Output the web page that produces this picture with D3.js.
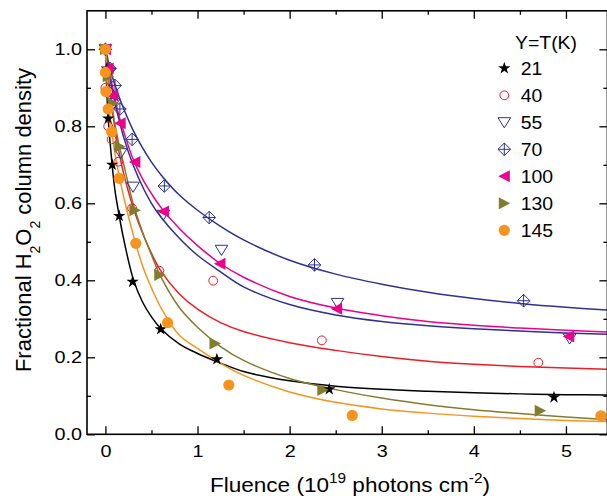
<!DOCTYPE html>
<html><head><meta charset="utf-8">
<script src="https://cdn.jsdelivr.net/npm/d3@7"></script>
<style>body{margin:0;background:#fff}svg{display:block}</style>
</head><body>
<svg id="chart" width="607" height="496"></svg>
<script>
// ---------- data ----------
const seriesNames = ["21","40","55","70","100","130","145"];
const seriesColors = ["#000000","#ee1c25","#2e3192","#2e3192","#ec008c","#827c2e","#f7941d"];
const seriesShapes = ["star","circleOpen","triDownOpen","diamondCross","triLeft","triRight","circleFilled"];

const pts21  = [[0,1.0],[0.015,0.95],[0.03,0.82],[0.074,0.70],[0.15,0.567],[0.295,0.396],[0.60,0.273],[1.21,0.195],[2.43,0.117],[4.87,0.096]];
const pts40  = [[0,1.0],[0,0.90],[0.03,0.80],[0.067,0.766],[0.14,0.708],[0.29,0.587],[0.585,0.425],[1.17,0.399],[2.35,0.244],[4.70,0.186]];
const pts55  = [[0,1.0],[0.04,0.94],[0.09,0.86],[0.165,0.73],[0.30,0.643],[0.628,0.57],[1.26,0.479],[2.52,0.341],[5.04,0.249]];
const pts70  = [[0,1.0],[0.05,0.95],[0.104,0.906],[0.157,0.845],[0.29,0.766],[0.64,0.645],[1.127,0.563],[2.27,0.44],[4.54,0.347]];
const pts100 = [[0,1.0],[0.03,0.95],[0.08,0.88],[0.16,0.808],[0.32,0.707],[0.63,0.579],[1.243,0.443],[2.51,0.326],[5.03,0.254]];
const pts130 = [[0,1.0],[0.03,0.93],[0.085,0.86],[0.157,0.747],[0.32,0.582],[0.59,0.414],[1.19,0.236],[2.36,0.115],[4.72,0.061]];
const pts145 = [[0,1.0],[0,0.94],[0.005,0.89],[0.03,0.845],[0.067,0.786],[0.15,0.665],[0.33,0.496],[0.675,0.29],[1.34,0.128],[2.68,0.049],[5.38,0.048]];

// fitted curves at these fluences
const curveX  = [0,0.025,0.05,0.1,0.15,0.2,0.3,0.4,0.5,0.6,0.8,1.0,1.25,1.5,2.0,2.5,3.0,3.5,4.0,4.5,5.0,5.45];
const fit21  = [1.0,0.84,0.76,0.64,0.567,0.505,0.405,0.345,0.305,0.275,0.235,0.21,0.185,0.163,0.139,0.125,0.117,0.112,0.108,0.105,0.103,0.102];
const fit40  = [1.0,0.94,0.885,0.80,0.73,0.675,0.59,0.525,0.47,0.425,0.365,0.325,0.29,0.267,0.238,0.218,0.202,0.19,0.182,0.176,0.172,0.169];
const fit55  = [1.0,0.96,0.925,0.865,0.815,0.77,0.70,0.645,0.60,0.565,0.51,0.465,0.422,0.383,0.337,0.31,0.293,0.282,0.274,0.268,0.263,0.26];
const fit70  = [1.0,0.975,0.95,0.91,0.875,0.845,0.79,0.745,0.707,0.675,0.622,0.582,0.54,0.505,0.452,0.416,0.39,0.369,0.353,0.34,0.33,0.323];
const fit100 = [1.0,0.965,0.935,0.875,0.825,0.785,0.715,0.665,0.625,0.59,0.535,0.49,0.443,0.408,0.358,0.328,0.308,0.293,0.283,0.276,0.27,0.266];
const fit130 = [1.0,0.94,0.89,0.81,0.75,0.70,0.60,0.527,0.466,0.41,0.33,0.278,0.228,0.192,0.145,0.116,0.094,0.077,0.064,0.054,0.045,0.038];
const fit145 = [1.0,0.89,0.825,0.735,0.67,0.615,0.52,0.44,0.38,0.33,0.258,0.223,0.184,0.153,0.11,0.083,0.066,0.055,0.047,0.041,0.036,0.033];

const xMajorTicks = [0,1,2,3,4,5];
const xMinorTicks = [0.5,1.5,2.5,3.5,4.5];
const yMajorTicks = [0,0.2,0.4,0.6,0.8,1.0];
const yMinorTicks = [0.1,0.3,0.5,0.7,0.9];
const legendTitle = "Y=T(K)";

const allPts = [pts21,pts40,pts55,pts70,pts100,pts130,pts145];
const allFits = [fit21,fit40,fit55,fit70,fit100,fit130,fit145];

// ---------- layout ----------
const L = 87, R = 607.4, T = 10.8, B = 434.3;
const FONT = "'Liberation Sans', Arial, Helvetica, sans-serif";
const svg = d3.select("#chart");
const x = d3.scaleLinear().domain([-0.2, 5.45]).range([L, R]);
const y = d3.scaleLinear().domain([0, 1.1]).range([B, T]);

svg.append("defs").append("clipPath").attr("id","clip")
  .append("rect").attr("x",L).attr("y",T).attr("width",R-L).attr("height",B-T);

// ---------- curves ----------
const line = d3.line().x(d=>x(d[0])).y(d=>y(d[1])).curve(d3.curveCatmullRom.alpha(0.5));
const gCurves = svg.append("g").attr("clip-path","url(#clip)");
allFits.forEach((f,i)=>{
  gCurves.append("path")
    .datum(curveX.map((xv,j)=>[xv,f[j]]))
    .attr("d",line).attr("fill","none")
    .attr("stroke",seriesColors[i]).attr("stroke-width",1.5);
});

// ---------- markers ----------
function marker(sel, shape, color){
  if(shape==="star"){
    sel.append("path").attr("d",d3.symbol(d3.symbolStar,48)()).attr("fill",color);
  } else if(shape==="circleOpen"){
    sel.append("circle").attr("r",4.4).attr("fill","none").attr("stroke",color).attr("stroke-width",1);
  } else if(shape==="triDownOpen"){
    sel.append("path").attr("d","M-6.3,-4.6L6.3,-4.6L0,5.6Z").attr("fill","none").attr("stroke",color).attr("stroke-width",1);
  } else if(shape==="diamondCross"){
    sel.append("path").attr("d","M0,-6.3L6.3,0L0,6.3L-6.3,0ZM0,-6.3V6.3M-6.3,0H6.3").attr("fill","none").attr("stroke",color).attr("stroke-width",1);
  } else if(shape==="triLeft"){
    sel.append("path").attr("d","M-6,0L5.5,-6L5.5,6Z").attr("fill",color);
  } else if(shape==="triRight"){
    sel.append("path").attr("d","M6,0L-5.5,-6L-5.5,6Z").attr("fill",color);
  } else if(shape==="circleFilled"){
    sel.append("circle").attr("r",5.6).attr("fill",color);
  }
}
const gPts = svg.append("g");
allPts.forEach((pts,i)=>{
  pts.forEach(p=>{
    const g = gPts.append("g").attr("transform",`translate(${x(p[0])},${y(p[1])})`);
    marker(g, seriesShapes[i], seriesColors[i]);
  });
});

// ---------- axes ----------
function styleAxis(g){ g.select(".domain").remove(); g.selectAll("line").attr("stroke","#000").attr("stroke-width",1.3); }
const tickFont = 16.5, tickScale = 1.2;

const gxB = svg.append("g").attr("transform",`translate(0,${B})`)
  .call(d3.axisBottom(x).tickValues(xMajorTicks).tickSize(-8).tickPadding(10.5).tickFormat(d3.format("d")));
styleAxis(gxB);
gxB.selectAll("text").attr("font-family",FONT).attr("font-size",tickFont).attr("fill","#000").attr("transform",`scale(${tickScale},1)`);
svg.append("g").attr("transform",`translate(0,${B})`)
  .call(d3.axisBottom(x).tickValues(xMinorTicks).tickSize(-4).tickFormat("")).call(styleAxis);

svg.append("g").attr("transform",`translate(0,${T})`)
  .call(d3.axisTop(x).tickValues(xMajorTicks).tickSize(-8).tickFormat("")).call(styleAxis);
svg.append("g").attr("transform",`translate(0,${T})`)
  .call(d3.axisTop(x).tickValues(xMinorTicks).tickSize(-4).tickFormat("")).call(styleAxis);

const gyL = svg.append("g").attr("transform",`translate(${L},0)`)
  .call(d3.axisLeft(y).tickValues(yMajorTicks).tickSize(-8).tickPadding(4.2).tickFormat(d3.format(".1f")));
styleAxis(gyL);
gyL.selectAll("text").attr("font-family",FONT).attr("font-size",tickFont).attr("fill","#000").attr("transform",`scale(${tickScale},1)`);
svg.append("g").attr("transform",`translate(${L},0)`)
  .call(d3.axisLeft(y).tickValues(yMinorTicks).tickSize(-4).tickFormat("")).call(styleAxis);

svg.append("g").attr("transform",`translate(${R},0)`)
  .call(d3.axisRight(y).tickValues(yMajorTicks).tickSize(-8).tickFormat("")).call(styleAxis);
svg.append("g").attr("transform",`translate(${R},0)`)
  .call(d3.axisRight(y).tickValues(yMinorTicks).tickSize(-4).tickFormat("")).call(styleAxis);

// frame
svg.append("rect").attr("x",L).attr("y",T).attr("width",R-L).attr("height",B-T)
  .attr("fill","none").attr("stroke","#000").attr("stroke-width",1.6);

// ---------- axis titles ----------
const xt = svg.append("text").attr("transform","translate(350,492) scale(1.1,1)")
  .attr("text-anchor","middle").attr("font-family",FONT).attr("font-size",20.5).attr("fill","#000");
xt.append("tspan").text("Fluence (10");
xt.append("tspan").attr("font-size",14).attr("dy",-9).text("19");
xt.append("tspan").attr("dy",9).text(" photons cm");
xt.append("tspan").attr("font-size",14).attr("dy",-9).text("-2");
xt.append("tspan").attr("dy",9).text(")");

const yt = svg.append("text").attr("transform","translate(30.8,220) rotate(-90)")
  .attr("text-anchor","middle").attr("font-family",FONT).attr("font-size",22).attr("fill","#000");
yt.append("tspan").text("Fractional H");
yt.append("tspan").attr("font-size",14).attr("dy",9.5).text("2");
yt.append("tspan").attr("dy",-9.5).text("O");
yt.append("tspan").attr("font-size",14).attr("dy",9.5).text("2");
yt.append("tspan").attr("dy",-9.5).text(" column density");

// ---------- legend ----------
svg.append("text").attr("transform","translate(515,49) scale(1.05,1)")
  .attr("font-family",FONT).attr("font-size",18.5).attr("fill","#000").text(legendTitle);
seriesNames.forEach((n,i)=>{
  const cy = 68.3 + i*27;
  const g = svg.append("g").attr("transform",`translate(504.3,${cy})`);
  marker(g, seriesShapes[i], seriesColors[i]);
  svg.append("text").attr("transform",`translate(520.7,${cy+6.6}) scale(1.05,1)`)
    .attr("font-family",FONT).attr("font-size",18.5).attr("fill","#000").text(n);
});
</script>
</body></html>
